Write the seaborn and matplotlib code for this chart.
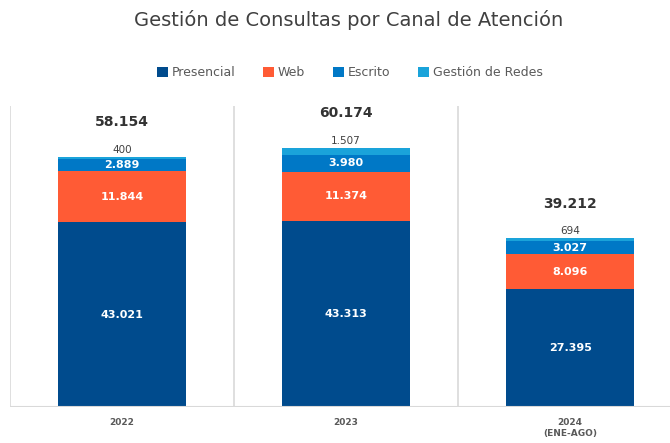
import numpy as np
import pandas as pd
import matplotlib
matplotlib.use("Agg")
import matplotlib.pyplot as plt
import seaborn as sns

# datos
years = ["2022", "2023", "2024\n(ENE-AGO)"]
presencial = [43021, 43313, 27395]
web = [11844, 11374, 8096]
escrito = [2889, 3980, 3027]
redes = [400, 1507, 694]
totals = [58154, 60174, 39212]

series = ["Presencial", "Web", "Escrito", "Gestión de Redes"]
colors = ["#004B8D", "#FF5B35", "#0078C6", "#1AA3DA"]

def fmt(v):
    return f"{v:,}".replace(",", ".")

sns.set_style("white")
plt.rcParams["font.family"] = ["DejaVu Sans"]

fig = plt.figure(figsize=(6.7, 4.43), dpi=100)
ax = fig.add_axes([10 / 670, 36 / 443, 660 / 670, 301 / 443])

stack = np.array([presencial, web, escrito, redes])
cum = stack.cumsum(axis=0)

# barras apiladas: dibujar acumulados de arriba hacia abajo
for i in range(len(series) - 1, -1, -1):
    df = pd.DataFrame({"year": years, "value": cum[i]})
    sns.barplot(data=df, x="year", y="value", color=colors[i], width=0.57,
                ax=ax, label=series[i], saturation=1, linewidth=0)

ax.set_xlim(-0.5, 2.446)
ax.set_ylim(0, 70000)

# etiquetas
for j in range(len(years)):
    bottoms = np.concatenate([[0], cum[:-1, j]])
    for i in range(3):
        ax.text(j, bottoms[i] + stack[i, j] / 2, fmt(stack[i, j]),
                ha="center", va="center", color="white", fontsize=8,
                fontweight="bold")
    ax.text(j, cum[3, j] + 500, fmt(redes[j]), ha="center", va="bottom",
            color="#404040", fontsize=7.5)
    ax.text(j, cum[3, j] + 8100, fmt(totals[j]), ha="center", va="center",
            color="#333333", fontsize=10, fontweight="bold")

# separadores verticales
for x in [-0.5, 0.5, 1.5]:
    ax.axvline(x, color="#d9d9d9", lw=1.2)
ax.axhline(0, color="#d9d9d9", lw=1.5)

for s in ax.spines.values():
    s.set_visible(False)
ax.set_yticks([])
ax.set_xlabel("")
ax.set_ylabel("")
ax.tick_params(axis="x", length=0, pad=8)
for t in ax.get_xticklabels():
    t.set_fontsize(6.5)
    t.set_fontweight("bold")
    t.set_color("#595959")

handles, labels = ax.get_legend_handles_labels()
order = [labels.index(s) for s in series]
fig.legend([handles[k] for k in order], series, loc="center",
           bbox_to_anchor=(0.522, 1 - 73 / 443), ncol=4, frameon=False,
           fontsize=9, handlelength=0.9, handleheight=0.9, handletextpad=0.3,
           columnspacing=2.2, labelcolor="#595959")
if ax.get_legend() is not None:
    ax.get_legend().remove()

fig.text(0.52, 1 - 20 / 443, "Gestión de Consultas por Canal de Atención",
         ha="center", va="center", fontsize=14, color="#404040")

fig.savefig("out.png", dpi=100)
